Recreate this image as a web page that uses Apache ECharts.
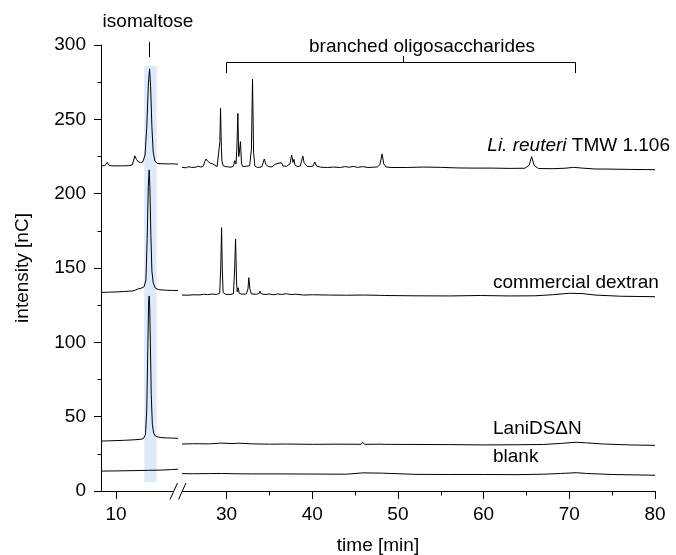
<!DOCTYPE html>
<html>
<head>
<meta charset="utf-8">
<script src="https://cdn.jsdelivr.net/npm/echarts@6/dist/echarts.min.js"></script>
<style>
html,body{margin:0;padding:0;background:#fff;}
#chart{width:676px;height:555px;}
</style>
</head>
<body>
<div id="chart"></div>
<script>
// ---- data (time [min], intensity [nC]) ----
const leftTicks = [10];
const rightMajorTicks = [30, 40, 50, 60, 70, 80];
const rightMinorTicks = [35, 45, 55, 65, 75];
const isomaltoseBand = [13.3, 14.75, 6, 286]; // tStart, tEnd, yLow, yHigh

const liReuteriLeft = [[8.25,218.8],[8.7,218.8],[8.85,220],[8.98,221.1],[9.15,219.2],[9.5,218.7],[10.5,218.7],[11.5,218.8],[11.9,219.3],[12.05,222],[12.2,225.5],[12.4,223],[12.6,221.5],[12.85,220.9],[13.15,221.5],[13.4,226],[13.6,245],[13.8,275],[13.93,284],[14.05,272],[14.2,245],[14.35,228],[14.55,222],[14.8,220.4],[15.5,220.1],[16.2,220.0],[16.4,221.1],[16.6,220.1],[17.0,219.9],[17.25,219.9]];
const liReuteriRight = [[24.8,217.7],[25.3,217.4],[25.6,218.2],[25.9,217.6],[26.4,217.8],[26.7,218.4],[27.0,217.9],[27.3,218.6],[27.45,221.5],[27.6,223.3],[27.8,221.8],[28.1,220.5],[28.4,220.0],[28.6,219.6],[28.9,218.2],[29.1,218.6],[29.22,235],[29.3,257.4],[29.36,240],[29.4,231],[29.46,222],[29.6,218.8],[29.9,218.2],[30.2,218.0],[30.5,217.8],[30.8,218.5],[30.95,222.2],[31.1,220],[31.2,230],[31.32,254],[31.42,225],[31.5,228],[31.62,235],[31.75,220],[31.9,218.2],[32.3,218.4],[32.7,218.8],[32.9,230],[33.03,277.1],[33.15,228],[33.3,218.6],[33.6,217.6],[34.1,218.0],[34.25,220.5],[34.4,223.3],[34.6,219.5],[34.9,218.2],[35.3,218.0],[35.6,219.5],[35.8,218.5],[36.0,220.4],[36.15,219.4],[36.4,220.8],[36.6,218.6],[37.0,218.4],[37.4,220],[37.6,226],[37.75,221],[37.86,223.1],[38.0,219],[38.3,218.2],[38.6,218.6],[38.9,225.3],[39.05,220.8],[39.2,220],[39.4,218.4],[39.8,218.2],[40.1,218.6],[40.3,221.3],[40.5,218.6],[41.0,217.8],[41.8,217.6],[42.5,217.9],[43.3,217.6],[43.8,218.2],[44.3,217.8],[44.8,218.3],[45.3,217.7],[45.9,218.2],[46.5,217.6],[47.1,217.8],[47.6,218],[47.9,219.5],[48.15,226.7],[48.35,220],[48.6,218],[49.2,217.6],[51,217.6],[53,217.9],[55,217.7],[57,217.3],[59,217.2],[61,217.2],[63,217.0],[64.8,217.1],[65.3,219],[65.6,224.9],[65.9,219],[66.4,216.9],[68,216.8],[69.5,217.1],[70.5,217.7],[71.5,217.2],[73,216.6],[75,216.5],[77,216.3],[79,216.2],[80,216.1]];

const dextranLeft = [[8.25,133.6],[9,133.7],[10,133.9],[11,134.2],[12,134.6],[12.3,135.2],[12.45,136.5],[12.6,136],[12.9,136.2],[13.3,137.5],[13.5,142],[13.65,170],[13.78,205],[13.88,216],[13.96,205],[14.08,172],[14.2,148],[14.35,140],[14.6,136.5],[15,135.4],[15.5,135.2],[16,135],[16.5,134.9],[17.25,134.9]];
const dextranRight = [[24.8,131.8],[25.5,131.7],[26.2,132.0],[26.8,131.9],[27.3,132.3],[27.8,132.1],[28.3,132.5],[28.8,132.2],[29.2,133],[29.32,150],[29.42,177.1],[29.5,150],[29.6,133.5],[29.9,132.3],[30.4,132.2],[30.8,132.6],[30.95,150],[31.05,169.5],[31.17,140],[31.25,134],[31.36,136.7],[31.48,133],[31.8,132.4],[32.3,132.5],[32.5,136],[32.6,143.5],[32.72,136],[32.9,132.6],[33.5,132.3],[33.8,133],[33.9,134.5],[34.05,132.6],[34.5,132.2],[35.0,132.5],[35.5,132.0],[36.0,132.6],[36.4,132.2],[37.0,132.7],[37.5,132.1],[38.0,132.4],[39.0,131.8],[40.0,132.0],[42.0,131.8],[44.0,131.7],[45.7,131.8],[45.9,133],[46.1,131.8],[48.0,131.6],[48.2,132.3],[48.4,131.5],[52,131.3],[56,131.2],[59.6,131.5],[63,131.2],[66,131.3],[68,132],[70,133],[71.5,132.8],[73,131.8],[76,131],[80,130.7]];

const laniLeft = [[8.25,33.6],[9,33.7],[10,33.9],[11,34.1],[12,34.4],[12.8,34.7],[13.2,35.2],[13.45,38],[13.6,55],[13.72,95],[13.82,128],[13.88,131.2],[13.94,125],[14.02,100],[14.12,65],[14.25,45],[14.4,39],[14.6,37],[15,36.2],[15.5,35.8],[16,35.7],[16.6,35.6],[17.25,35.4]];
const laniRight = [[24.8,31.6],[26,31.8],[28,31.7],[29.3,32.2],[29.5,31.7],[31,31.9],[31.3,32.2],[31.5,31.6],[33,31.7],[35,31.5],[37,31.6],[40,31.4],[43,31.5],[45.7,31.4],[45.9,32.8],[46.1,31.4],[48,31.5],[48.2,32.5],[48.4,31.4],[52,31.3],[56,31.2],[60,31.0],[64,31.1],[67,31.3],[69,32],[70.8,32.8],[72,32.4],[74,31.6],[77,31.0],[80,30.7]];

const blankLeft = [[8.25,13.4],[10,13.5],[12,13.7],[13.8,13.9],[13.9,14.4],[14.0,13.9],[15.5,14.1],[16.5,14.4],[17.25,14.7]];
const blankRight = [[24.8,11.7],[26,11.6],[28,11.7],[29.4,11.8],[31,11.6],[33,11.5],[36,11.5],[40,11.4],[44,11.3],[45.9,12.2],[46.1,11.3],[48.2,12],[48.4,11.3],[52,11.2],[56,11.1],[60,11.1],[64,11.0],[67,11.3],[69,11.8],[70.8,12.3],[72,11.8],[75,11.1],[80,10.6]];

// ---- chart ----
const FONT = '"Liberation Sans", Arial, sans-serif';
const FS = 19;
const chart = echarts.init(document.getElementById('chart'), null, {renderer: 'canvas'});

function lineSeries(name, data, idx) {
  return {
    name: name, type: 'line', data: data, xAxisIndex: idx, yAxisIndex: idx,
    showSymbol: false, symbol: 'none', smooth: false, z: 3,
    lineStyle: {color: '#000', width: 1}, animation: false
  };
}

const option = {
  animation: false,
  backgroundColor: '#fff',
  grid: [
    {left: 101, top: 45, width: 77, bottom: 64, containLabel: false},
    {left: 182, top: 45, right: 21, bottom: 64, containLabel: false},
    // thin strip just under the right time axis, used for its minor ticks
    {left: 182, top: 491, right: 21, height: 4.5, containLabel: false}
  ],
  xAxis: [
    {
      type: 'value', gridIndex: 0, min: 8.25, max: 17.25,
      axisLine: {show: true, lineStyle: {color: '#000', width: 1}},
      axisTick: {show: true, length: 8, inside: false, customValues: leftTicks, lineStyle: {color: '#000'}},
      axisLabel: {show: true, customValues: leftTicks, margin: 14, color: '#000', fontSize: FS, fontFamily: FONT},
      splitLine: {show: false}
    },
    {
      type: 'value', gridIndex: 1, min: 24.8, max: 80,
      axisLine: {show: true, lineStyle: {color: '#000', width: 1}},
      axisTick: {show: true, length: 8, inside: false, customValues: rightMajorTicks, lineStyle: {color: '#000'}},
      axisLabel: {show: true, customValues: rightMajorTicks, margin: 14, color: '#000', fontSize: FS, fontFamily: FONT},
      splitLine: {show: false}
    },
    {
      type: 'value', gridIndex: 2, min: 24.8, max: 80,
      axisLine: {show: false}, axisTick: {show: false}, axisLabel: {show: false}, splitLine: {show: false}
    }
  ],
  yAxis: [
    {
      type: 'value', gridIndex: 0, min: 0, max: 300, interval: 50,
      axisLine: {show: true, lineStyle: {color: '#000', width: 1}},
      axisTick: {show: true, length: 7, inside: false, lineStyle: {color: '#000'}},
      minorTick: {show: true, splitNumber: 2, length: 3.5, lineStyle: {color: '#000'}},
      axisLabel: {show: true, margin: 15, color: '#000', fontSize: FS, fontFamily: FONT},
      splitLine: {show: false}
    },
    {
      type: 'value', gridIndex: 1, min: 0, max: 300,
      axisLine: {show: false}, axisTick: {show: false}, axisLabel: {show: false}, splitLine: {show: false}
    },
    {
      type: 'value', gridIndex: 2, min: 0, max: 1,
      axisLine: {show: false}, axisTick: {show: false}, axisLabel: {show: false}, splitLine: {show: false}
    }
  ],
  series: [
    {
      type: 'line', xAxisIndex: 0, yAxisIndex: 0, data: [], z: 1, silent: true,
      markArea: {
        silent: true,
        itemStyle: {color: '#deeafc'},
        data: [[{xAxis: isomaltoseBand[0], yAxis: isomaltoseBand[2]}, {xAxis: isomaltoseBand[1], yAxis: isomaltoseBand[3]}]]
      }
    },
    {
      // minor ticks of the right time axis: vertical marker lines spanning the thin strip grid
      type: 'line', xAxisIndex: 2, yAxisIndex: 2, data: [], silent: true, z: 4,
      markLine: {
        silent: true, symbol: ['none', 'none'], animation: false,
        label: {show: false},
        lineStyle: {color: '#000', width: 1, type: 'solid'},
        emphasis: {disabled: true},
        data: rightMinorTicks.map(function (t) { return {xAxis: t}; })
      }
    },
    lineSeries('Li. reuteri TMW 1.106', liReuteriLeft, 0),
    lineSeries('Li. reuteri TMW 1.106', liReuteriRight, 1),
    lineSeries('commercial dextran', dextranLeft, 0),
    lineSeries('commercial dextran', dextranRight, 1),
    lineSeries('LaniDSΔN', laniLeft, 0),
    lineSeries('LaniDSΔN', laniRight, 1),
    lineSeries('blank', blankLeft, 0),
    lineSeries('blank', blankRight, 1)
  ],
  graphic: [
    // axis names
    {type: 'text', style: {text: 'time [min]', x: 378, y: 546, textAlign: 'center', textVerticalAlign: 'middle', font: FS + 'px ' + FONT, fill: '#000'}},
    {type: 'text', rotation: Math.PI / 2, x: 23, y: 268, style: {text: 'intensity [nC]', x: 0, y: 0, textAlign: 'center', textVerticalAlign: 'middle', font: FS + 'px ' + FONT, fill: '#000'}},
    // axis break marks
    {type: 'polygon', shape: {points: [[170, 499], [177.5, 483], [186, 483], [178.5, 499]]}, style: {fill: '#fff'}, z: 10},
    {type: 'line', shape: {x1: 170, y1: 499.5, x2: 177.5, y2: 483}, style: {stroke: '#000', lineWidth: 1}, z: 11},
    {type: 'line', shape: {x1: 178.5, y1: 499.5, x2: 186, y2: 483}, style: {stroke: '#000', lineWidth: 1}, z: 11},
    // annotations
    {type: 'text', style: {text: 'isomaltose', x: 148, y: 22, textAlign: 'center', textVerticalAlign: 'middle', font: FS + 'px ' + FONT, fill: '#000'}},
    {type: 'line', shape: {x1: 149.5, y1: 42, x2: 149.5, y2: 57}, style: {stroke: '#000', lineWidth: 1}},
    {type: 'polyline', shape: {points: [[226.5, 73], [226.5, 62.5], [575.5, 62.5], [575.5, 73]]}, style: {stroke: '#000', lineWidth: 1, fill: null}},
    {type: 'line', shape: {x1: 403.5, y1: 62.5, x2: 403.5, y2: 56}, style: {stroke: '#000', lineWidth: 1}},
    {type: 'text', style: {text: 'branched oligosaccharides', x: 422, y: 47, textAlign: 'center', textVerticalAlign: 'middle', font: FS + 'px ' + FONT, fill: '#000'}},
    // series labels
    {type: 'text', style: {text: '{i|Li. reuteri} TMW 1.106', x: 670, y: 146, textAlign: 'right', textVerticalAlign: 'middle', font: FS + 'px ' + FONT, fill: '#000',
      rich: {i: {fontStyle: 'italic', fontSize: FS, fontFamily: FONT, fill: '#000'}}}},
    {type: 'text', style: {text: 'commercial dextran', x: 493, y: 283, textAlign: 'left', textVerticalAlign: 'middle', font: FS + 'px ' + FONT, fill: '#000'}},
    {type: 'text', style: {text: 'LaniDSΔN', x: 493, y: 429, textAlign: 'left', textVerticalAlign: 'middle', font: FS + 'px ' + FONT, fill: '#000'}},
    {type: 'text', style: {text: 'blank', x: 493, y: 457, textAlign: 'left', textVerticalAlign: 'middle', font: FS + 'px ' + FONT, fill: '#000'}}
  ]
};
chart.setOption(option);
</script>
</body>
</html>
